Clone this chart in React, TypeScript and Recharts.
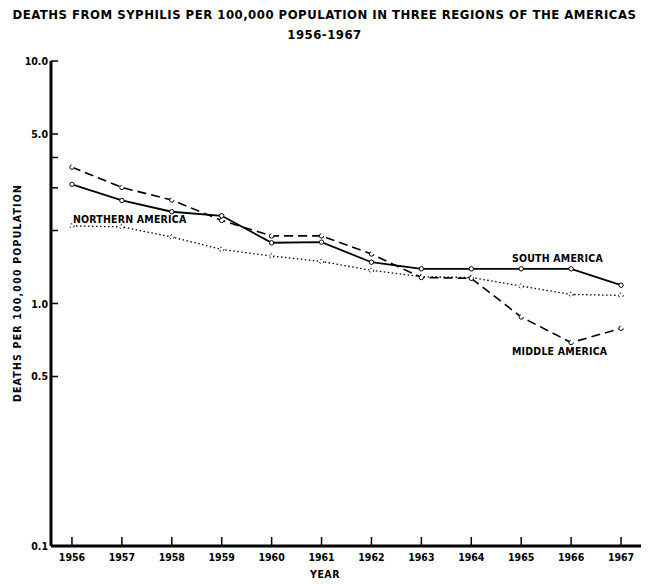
import { LineChart, Line, XAxis, YAxis } from 'recharts';

const YEARS = [1956, 1957, 1958, 1959, 1960, 1961, 1962, 1963, 1964, 1965, 1966, 1967];
const SOUTH_AMERICA = [3.1, 2.66, 2.39, 2.3, 1.78, 1.79, 1.48, 1.39, 1.39, 1.39, 1.39, 1.19];
const MIDDLE_AMERICA = [3.65, 3.01, 2.67, 2.2, 1.9, 1.9, 1.6, 1.28, 1.27, 0.88, 0.69, 0.79];
const NORTHERN_AMERICA = [2.09, 2.07, 1.88, 1.67, 1.57, 1.49, 1.37, 1.29, 1.28, 1.18, 1.09, 1.08];
const Y_TICKS = [0.1, 0.5, 1, 2, 3, 4, 5, 10];
const Y_LABELED = [0.1, 0.5, 1, 5, 10];

const FONT = '"DejaVu Sans Condensed", "Liberation Sans Narrow", "DejaVu Sans", sans-serif';

const data = YEARS.map((year, i) => ({
  year,
  south: SOUTH_AMERICA[i],
  middle: MIDDLE_AMERICA[i],
  northern: NORTHERN_AMERICA[i],
}));

const YTick = ({ x, y, payload }: any) => {
  const v = payload.value as number;
  return (
    <g>
      <line x1={x} y1={y} x2={x + 7} y2={y} stroke="#000" strokeWidth={1.5} />
      {Y_LABELED.includes(v) && (
        <text x={x - 3} y={y + 4} textAnchor="end" fontFamily={FONT} fontWeight="bold" fontSize={10.5} fill="#000">
          {v.toFixed(1)}
        </text>
      )}
    </g>
  );
};

const XTick = ({ x, y, payload }: any) => (
  <g>
    <line x1={x} y1={y} x2={x} y2={y - 9} stroke="#000" strokeWidth={1.5} />
    <text x={x} y={y + 15} textAnchor="middle" fontFamily={FONT} fontWeight="bold" fontSize={10.5} fill="#000">
      {payload.value}
    </text>
  </g>
);

const dot = { r: 2.2, fill: '#fff', stroke: '#000', strokeWidth: 1 };

const textStyle: React.CSSProperties = {
  position: 'absolute',
  fontFamily: FONT,
  fontWeight: 'bold',
  color: '#000',
  whiteSpace: 'nowrap',
  lineHeight: 1,
};

export default function App() {
  return (
    <div style={{ position: 'absolute', left: 0, top: 0, width: 649, height: 584, background: '#fff' }}>
      <div style={{ ...textStyle, left: 0, width: 649, top: 8, textAlign: 'center', fontSize: 13, letterSpacing: 0.5 }}>
        DEATHS FROM SYPHILIS PER 100,000 POPULATION IN THREE REGIONS OF THE AMERICAS
      </div>
      <div style={{ ...textStyle, left: 0, width: 649, top: 28, textAlign: 'center', fontSize: 13, letterSpacing: 0.5 }}>
        1956-1967
      </div>
      <LineChart
        width={649}
        height={584}
        data={data}
        margin={{ top: 61, right: 8, bottom: 8, left: 0 }}
        style={{ position: 'absolute', left: 0, top: 0 }}
      >
        <XAxis
          xAxisId="bottom"
          dataKey="year"
          type="number"
          domain={[1955.58, 1967.4]}
          ticks={YEARS}
          height={30}
          axisLine={{ stroke: '#000', strokeWidth: 3 }}
          tickLine={false}
          tickSize={0}
          tickMargin={0}
          tick={<XTick />}
          allowDataOverflow
        />
        <XAxis
          xAxisId="top"
          orientation="top"
          dataKey="year"
          type="number"
          domain={[1955.58, 1967.4]}
          height={0}
          axisLine={{ stroke: '#000', strokeWidth: 3 }}
          tick={false}
          tickLine={false}
        />
        <YAxis
          yAxisId="left"
          scale="log"
          domain={[0.1, 10]}
          ticks={Y_TICKS}
          width={51}
          axisLine={{ stroke: '#000', strokeWidth: 3 }}
          tickLine={false}
          tickSize={0}
          tickMargin={0}
          tick={<YTick />}
          allowDataOverflow
        />
        <YAxis
          yAxisId="right"
          orientation="right"
          scale="log"
          domain={[0.1, 10]}
          width={0}
          axisLine={{ stroke: '#000', strokeWidth: 3 }}
          tick={false}
          tickLine={false}
        />
        <Line
          xAxisId="bottom"
          yAxisId="left"
          dataKey="northern"
          stroke="#000"
          strokeWidth={1.3}
          strokeDasharray="1.5 2.5"
          dot={dot}
          isAnimationActive={false}
        />
        <Line
          xAxisId="bottom"
          yAxisId="left"
          dataKey="middle"
          stroke="#000"
          strokeWidth={1.6}
          strokeDasharray="9 5"
          dot={dot}
          isAnimationActive={false}
        />
        <Line
          xAxisId="bottom"
          yAxisId="left"
          dataKey="south"
          stroke="#000"
          strokeWidth={1.8}
          dot={dot}
          isAnimationActive={false}
        />
      </LineChart>
      <div style={{ ...textStyle, left: 73, top: 214, fontSize: 10.5, letterSpacing: 0.2 }}>NORTHERN AMERICA</div>
      <div style={{ ...textStyle, left: 512, top: 253, fontSize: 10.5, letterSpacing: 0.2 }}>SOUTH AMERICA</div>
      <div style={{ ...textStyle, left: 512, top: 346, fontSize: 10.5, letterSpacing: 0.2 }}>MIDDLE AMERICA</div>
      <div style={{ ...textStyle, left: 325, top: 569, fontSize: 10.5, letterSpacing: 0.5, transform: 'translateX(-50%)' }}>YEAR</div>
      <div
        style={{
          ...textStyle,
          left: 17,
          top: 293,
          fontSize: 10.5,
          letterSpacing: 1.2,
          transform: 'translate(-50%, -50%) rotate(-90deg)',
        }}
      >
        DEATHS PER 100,000 POPULATION
      </div>
    </div>
  );
}
